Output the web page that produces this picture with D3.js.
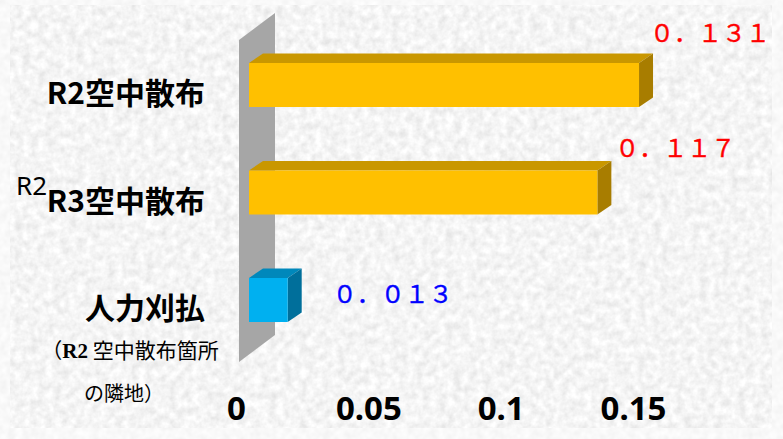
<!DOCTYPE html>
<html>
<head>
<meta charset="utf-8">
<script src="https://cdn.jsdelivr.net/npm/d3@7"></script>
<style>
  body { margin: 0; background: #f2f2f2; }
  svg { display: block; }
</style>
</head>
<body>
<div class="chart"></div>
<script>
// data
const categories = ['R2空中散布', 'R3空中散布', '人力刈払'];
const values = [0.131, 0.117, 0.013];
const barColors = ['yellow', 'yellow', 'blue'];
const valueColors = ['#ff0000', '#ff0000', '#0000ff'];
const tickValues = [0, 0.05, 0.1, 0.15];
const tickLabels = ['0', '0.05', '0.1', '0.15'];
const subLabel1 = ['（', 'R2', ' 空中散布箇所'];
const subLabel2 = 'の隣地）';
const strayLabel = 'R2';

const width = 783;
const height = 439;
const depth = { x: 14, y: 9.5 };
const barH = 44;

const palette = {
  yellow: { front: '#ffc000', top: '#c99700', side: '#a87d00' },
  blue: { front: '#00b0f0', top: '#0088bb', side: '#006f9b' }
};

const svg = d3.select('.chart')
  .append('svg')
  .attr('width', width)
  .attr('height', height);

// granite-like texture
const defs = svg.append('defs');
const filt = defs.append('filter')
  .attr('id', 'granite')
  .attr('x', 0).attr('y', 0).attr('width', 1).attr('height', 1);
filt.append('feTurbulence')
  .attr('type', 'fractalNoise')
  .attr('baseFrequency', 0.13)
  .attr('numOctaves', 3)
  .attr('seed', 4);
filt.append('feColorMatrix')
  .attr('type', 'matrix')
  .attr('values', '0.34 0 0 0 0.74  0.34 0 0 0 0.74  0.34 0 0 0 0.74  0 0 0 0 1');

const filt2 = defs.append('filter')
  .attr('id', 'granite-light')
  .attr('x', 0).attr('y', 0).attr('width', 1).attr('height', 1);
filt2.append('feTurbulence')
  .attr('type', 'fractalNoise')
  .attr('baseFrequency', 0.13)
  .attr('numOctaves', 2)
  .attr('seed', 9);
filt2.append('feColorMatrix')
  .attr('type', 'matrix')
  .attr('values', '0.15 0 0 0 0.87  0.15 0 0 0 0.87  0.15 0 0 0 0.87  0 0 0 0 1');

svg.append('rect')
  .attr('width', width).attr('height', height)
  .attr('filter', 'url(#granite-light)');
svg.append('rect')
  .attr('x', 10).attr('y', 5)
  .attr('width', 762).attr('height', 423)
  .attr('filter', 'url(#granite)');

// scales
const xBar = d3.scaleLinear().domain([0, 0.15]).range([249, 695.6]);
const xTick = d3.scaleLinear().domain([0, 0.15]).range([236, 633]);
const y = d3.scalePoint().domain(categories).range([85, 300]);

// side wall
const wall = [[239, 40], [275, 13], [275, 335], [239, 362]];
svg.append('polygon')
  .attr('points', wall.map(p => p.join(',')).join(' '))
  .attr('fill', '#a6a6a6');

// bars
const bars = svg.selectAll('g.bar')
  .data(values.map((v, i) => ({ v, cat: categories[i], col: palette[barColors[i]] })))
  .enter()
  .append('g')
  .attr('class', 'bar');

bars.append('polygon') // top face
  .attr('points', d => {
    const x0 = xBar(0), x1 = xBar(d.v), yt = y(d.cat) - barH / 2;
    return [[x0, yt], [x0 + depth.x, yt - depth.y], [x1 + depth.x, yt - depth.y], [x1, yt]]
      .map(p => p.join(',')).join(' ');
  })
  .attr('fill', d => d.col.top);

bars.append('polygon') // right face
  .attr('points', d => {
    const x1 = xBar(d.v), yt = y(d.cat) - barH / 2, yb = y(d.cat) + barH / 2;
    return [[x1, yt], [x1 + depth.x, yt - depth.y], [x1 + depth.x, yb - depth.y], [x1, yb]]
      .map(p => p.join(',')).join(' ');
  })
  .attr('fill', d => d.col.side);

bars.append('rect') // front face
  .attr('x', xBar(0))
  .attr('y', d => y(d.cat) - barH / 2)
  .attr('width', d => xBar(d.v) - xBar(0))
  .attr('height', barH)
  .attr('fill', d => d.col.front);

// value labels (full-width digits)
const toFull = s => s.replace(/[0-9.]/g, c => c === '.' ? '．' : String.fromCharCode(c.charCodeAt(0) + 0xFEE0));
const nudge = [[11, -21], [18, -14], [45, 25]];
svg.selectAll('text.val')
  .data(values)
  .enter()
  .append('text')
  .attr('class', 'val')
  .attr('x', (d, i) => xBar(d) + nudge[i][0])
  .attr('y', (d, i) => y(categories[i]) - barH / 2 + nudge[i][1])
  .attr('fill', (d, i) => valueColors[i])
  .attr('stroke', (d, i) => valueColors[i])
  .attr('stroke-width', 0.4)
  .style('font-family', '"Noto Sans CJK JP", sans-serif')
  .style('font-size', '24px')
  .text(d => toFull(d3.format('.3f')(d)));

// category labels
svg.selectAll('text.cat')
  .data(categories)
  .enter()
  .append('text')
  .attr('class', 'cat')
  .attr('x', 205)
  .attr('y', d => y(d) + 19)
  .attr('text-anchor', 'end')
  .style('font-family', '"Noto Sans CJK JP", sans-serif')
  .style('font-weight', 'bold')
  .style('font-size', '30px')
  .text(d => d);

const sub = svg.append('text')
  .attr('x', 130)
  .attr('y', 358)
  .attr('text-anchor', 'middle')
  .style('font-family', '"Noto Sans CJK JP", sans-serif')
  .style('font-size', '21px');
sub.append('tspan').text(subLabel1[0]);
sub.append('tspan')
  .style('font-family', '"Liberation Serif", serif')
  .style('font-weight', 'bold')
  .text(subLabel1[1]);
sub.append('tspan').text(subLabel1[2]);

svg.append('text')
  .attr('x', 124)
  .attr('y', 401)
  .attr('text-anchor', 'middle')
  .style('font-family', '"Noto Sans CJK JP", sans-serif')
  .style('font-size', '20px')
  .text(subLabel2);

svg.append('text')
  .attr('x', 16)
  .attr('y', 195)
  .style('font-family', '"Noto Sans", sans-serif')
  .style('font-size', '26px')
  .text(strayLabel);

// x axis labels
const xAxis = d3.axisBottom(xTick)
  .tickValues(tickValues)
  .tickFormat((d, i) => tickLabels[i])
  .tickSize(0)
  .tickPadding(0);

const gx = svg.append('g')
  .attr('transform', 'translate(0, 397)')
  .call(xAxis);
gx.select('.domain').remove();
gx.selectAll('text')
  .attr('fill', '#000')
  .attr('dy', '0.71em')
  .style('font-family', '"Noto Sans", sans-serif')
  .style('font-weight', 'bold')
  .style('font-size', '33px');
</script>
</body>
</html>
